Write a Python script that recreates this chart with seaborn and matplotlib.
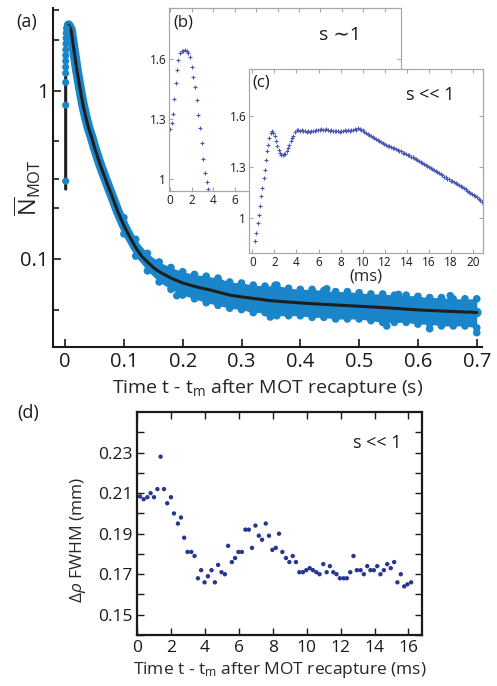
import numpy as np
import pandas as pd
import seaborn as sns
import matplotlib.pyplot as plt
from matplotlib.ticker import LogLocator, NullFormatter

##################### panel (a): N_MOT after recapture (log scale)

# fitted curve (black line), time in s
fit_t = [0.001, 0.001, 0.006, 0.010, 0.015, 0.020, 0.025, 0.030, 0.035, 0.040, 0.045,
         0.050, 0.060, 0.070, 0.080, 0.090, 0.100, 0.110, 0.120, 0.130, 0.140, 0.150,
         0.160, 0.180, 0.200, 0.225, 0.250, 0.280, 0.300, 0.350, 0.400, 0.450, 0.500,
         0.550, 0.600, 0.650, 0.700]
fit_n = [0.26, 2.20, 2.45, 2.30, 1.75, 1.33, 1.05, 0.84, 0.70, 0.60, 0.53,
         0.46, 0.36, 0.29, 0.235, 0.19, 0.158, 0.135, 0.117, 0.104, 0.096, 0.089,
         0.084, 0.077, 0.072, 0.068, 0.065, 0.061, 0.0595, 0.0565, 0.0548, 0.0535, 0.0524,
         0.0512, 0.0498, 0.0489, 0.0481]

# measured points during the rise
rise_t = [0.001, 0.001, 0.001, 0.001, 0.001, 0.001, 0.0012, 0.0012, 0.0015, 0.0018, 0.002, 0.0025]
rise_n = [0.29, 0.82, 1.12, 1.27, 1.38, 1.50, 1.62, 1.75, 1.90, 2.05, 2.20, 2.35]

# upper / lower edge of the noisy data band
band_t = [0.10, 0.12, 0.14, 0.16, 0.18, 0.20, 0.22, 0.24, 0.26, 0.28, 0.30, 0.32, 0.34,
          0.36, 0.38, 0.40, 0.42, 0.44, 0.46, 0.48, 0.50, 0.52, 0.54, 0.56, 0.58, 0.60,
          0.62, 0.64, 0.66, 0.68, 0.70]
band_hi = [0.176, 0.131, 0.108, 0.096, 0.089, 0.084, 0.081, 0.079, 0.077, 0.073, 0.072,
           0.070, 0.069, 0.070, 0.067, 0.066, 0.066, 0.065, 0.064, 0.064, 0.063, 0.062,
           0.062, 0.061, 0.061, 0.060, 0.059, 0.059, 0.058, 0.058, 0.058]
band_lo = [0.141, 0.104, 0.085, 0.073, 0.066, 0.061, 0.058, 0.055, 0.053, 0.051, 0.050,
           0.048, 0.048, 0.046, 0.046, 0.046, 0.045, 0.045, 0.044, 0.044, 0.044, 0.043,
           0.042, 0.042, 0.042, 0.041, 0.041, 0.040, 0.040, 0.040, 0.039]

# stray points outside the band
out_t = [0.19, 0.262, 0.349, 0.357, 0.445, 0.547, 0.567, 0.62, 0.655, 0.70]
out_n = [0.0605, 0.0735, 0.0452, 0.0697, 0.0665, 0.0400, 0.0616, 0.0385, 0.0605, 0.0365]

##################### inset (b): s ~ 1, time in ms

b_t = [0.0, 0.19, 0.31, 0.40, 0.53, 0.62, 0.78, 0.93, 1.09, 1.24, 1.40, 1.55, 1.71,
       1.86, 2.02, 2.17, 2.33, 2.48, 2.64, 2.79, 2.95, 3.10, 3.26, 3.41, 3.57]
b_v = [1.25, 1.28, 1.325, 1.40, 1.48, 1.545, 1.595, 1.628, 1.64, 1.642, 1.645, 1.64, 1.63,
       1.61, 1.56, 1.51, 1.46, 1.395, 1.32, 1.255, 1.18, 1.10, 1.03, 0.985, 0.95]

##################### inset (c): s << 1, time in ms

c_t = [0.21, 0.36, 0.48, 0.60, 0.72, 0.81, 0.90, 1.03, 1.12, 1.21, 1.33, 1.42, 1.54, 1.66,
       1.78, 1.90, 2.02, 2.14, 2.26, 2.38, 2.50, 2.62, 2.75, 2.87, 2.99, 3.11, 3.23, 3.35,
       3.47, 3.59, 3.71, 3.86, 4.01, 4.16, 4.31, 4.46, 4.61, 4.76, 4.91, 5.06, 5.21, 5.36,
       5.51, 5.66, 5.81, 5.96, 6.11, 6.26, 6.41, 6.56, 6.71, 6.86, 7.01, 7.16, 7.31, 7.46,
       7.61, 7.76, 7.91, 8.06, 8.21, 8.36, 8.51, 8.66, 8.81, 8.96, 9.11, 9.26, 9.41, 9.56,
       9.71, 9.86, 10.01, 10.16, 10.31, 10.46, 10.61, 10.76, 10.91, 11.06, 11.21, 11.36,
       11.51, 11.66, 11.81, 11.96, 12.11, 12.26, 12.41, 12.56, 12.71, 12.86, 13.01, 13.16,
       13.31, 13.46, 13.61, 13.76, 13.91, 14.06, 14.21, 14.36, 14.51, 14.66, 14.81, 14.96,
       15.11, 15.26, 15.41, 15.56, 15.71, 15.86, 16.01, 16.16, 16.31, 16.46, 16.61, 16.76,
       16.91, 17.06, 17.21, 17.36, 17.51, 17.66, 17.81, 17.96, 18.11, 18.26, 18.41, 18.56,
       18.71, 18.86, 19.01, 19.16, 19.31, 19.46, 19.61, 19.76, 19.91, 20.06, 20.21, 20.36,
       20.51, 20.66, 20.81]
c_v = [0.863, 0.912, 0.970, 1.020, 1.069, 1.127, 1.176, 1.235, 1.284, 1.343, 1.392, 1.431,
       1.470, 1.500, 1.510, 1.500, 1.480, 1.450, 1.425, 1.400, 1.382, 1.373, 1.371, 1.374,
       1.378, 1.392, 1.410, 1.430, 1.450, 1.470, 1.484, 1.504, 1.516, 1.520, 1.514, 1.517,
       1.513, 1.510, 1.508, 1.512, 1.507, 1.510, 1.509, 1.514, 1.518, 1.520, 1.516, 1.522,
       1.519, 1.517, 1.521, 1.515, 1.513, 1.517, 1.512, 1.514, 1.509, 1.511, 1.507, 1.513,
       1.510, 1.515, 1.512, 1.518, 1.514, 1.520, 1.517, 1.522, 1.520, 1.530, 1.525, 1.518,
       1.516, 1.508, 1.501, 1.496, 1.489, 1.483, 1.478, 1.472, 1.464, 1.459, 1.452, 1.446,
       1.441, 1.433, 1.429, 1.425, 1.422, 1.417, 1.413, 1.409, 1.404, 1.400, 1.395, 1.391,
       1.385, 1.381, 1.375, 1.372, 1.368, 1.361, 1.357, 1.351, 1.347, 1.341, 1.335, 1.330,
       1.324, 1.320, 1.313, 1.307, 1.301, 1.294, 1.288, 1.281, 1.277, 1.269, 1.262, 1.257,
       1.250, 1.243, 1.238, 1.231, 1.227, 1.220, 1.215, 1.209, 1.203, 1.198, 1.191, 1.187,
       1.180, 1.174, 1.169, 1.161, 1.155, 1.149, 1.142, 1.137, 1.128, 1.121, 1.113, 1.105,
       1.096]

##################### panel (d): cloud width, time in ms

d_t = [0.18, 0.39, 0.61, 0.80, 1.00, 1.20, 1.39, 1.59, 1.78, 2.00, 2.18, 2.41, 2.59, 2.78,
       2.98, 3.20, 3.39, 3.59, 3.78, 3.98, 4.18, 4.39, 4.59, 4.78, 4.98, 5.18, 5.37, 5.59,
       5.78, 5.98, 6.18, 6.39, 6.59, 6.78, 6.98, 7.18, 7.37, 7.59, 7.78, 7.98, 8.18, 8.37,
       8.57, 8.78, 8.98, 9.18, 9.37, 9.57, 9.78, 9.98, 10.18, 10.37, 10.57, 10.76, 10.98,
       11.18, 11.37, 11.57, 11.76, 11.96, 12.18, 12.37, 12.57, 12.76, 12.96, 13.18, 13.37,
       13.57, 13.76, 13.96, 14.16, 14.35, 14.55, 14.75, 14.96, 15.16, 15.35, 15.55, 15.75,
       15.94, 16.16]
d_w = [0.2084, 0.207, 0.208, 0.210, 0.208, 0.212, 0.228, 0.212, 0.205, 0.208, 0.200, 0.195,
       0.198, 0.188, 0.181, 0.181, 0.179, 0.168, 0.172, 0.166, 0.169, 0.172, 0.166, 0.1746,
       0.171, 0.170, 0.184, 0.176, 0.178, 0.181, 0.181, 0.192, 0.192, 0.183, 0.194, 0.189,
       0.187, 0.195, 0.189, 0.182, 0.183, 0.190, 0.181, 0.178, 0.176, 0.179, 0.176, 0.171,
       0.171, 0.172, 0.173, 0.172, 0.171, 0.170, 0.175, 0.171, 0.174, 0.171, 0.170, 0.168,
       0.168, 0.168, 0.171, 0.179, 0.172, 0.172, 0.170, 0.174, 0.172, 0.172, 0.174, 0.170,
       0.172, 0.175, 0.173, 0.176, 0.166, 0.170, 0.164, 0.165, 0.166]

#####################

blue = '#1a85c8'
inset_blue = '#4a58b6'
grey = '#a8a8a8'

sns.set_style('ticks')
plt.rcParams['font.family'] = ['Open Sans', 'DejaVu Sans']
plt.rcParams['mathtext.fontset'] = 'custom'
plt.rcParams['mathtext.rm'] = 'Open Sans'
plt.rcParams['mathtext.it'] = 'Open Sans:italic'
plt.rcParams['text.color'] = '#1a1a1a'

fig = plt.figure(figsize=(4.97, 6.86), dpi=100)

# ---- panel (a)
ax = fig.add_axes([0.1073, 0.4942, 0.862, 0.4942])
ax.set_yscale('log')
ax.fill_between(band_t, band_lo, band_hi, color=blue, lw=0)
# thick blue core along the decay (skip the vertical rise segment)
sns.lineplot(x=fit_t[2:], y=fit_n[2:], ax=ax, color=blue, lw=7, sort=False, estimator=None,
             solid_capstyle='round')
for xs, ys in [(band_t, band_hi), (band_t, band_lo), (out_t, out_n)]:
    sns.scatterplot(x=xs, y=ys, ax=ax, s=30, color=blue, edgecolor='none')
sns.scatterplot(x=rise_t, y=rise_n, ax=ax, s=26, color=blue, edgecolor='none', zorder=3)
sns.lineplot(x=fit_t, y=fit_n, ax=ax, color='#1e1e1e', lw=2.2, sort=False, estimator=None)

ax.set_xlim(-0.02, 0.7085)
ax.set_ylim(0.03, 3.1)
ax.set_xticks([0, 0.1, 0.2, 0.3, 0.4, 0.5, 0.6, 0.7])
ax.set_xticklabels(['0', '0.1', '0.2', '0.3', '0.4', '0.5', '0.6', '0.7'])
ax.set_yticks([0.1, 1])
ax.set_yticklabels(['0.1', '1'])
ax.yaxis.set_minor_locator(LogLocator(subs=(2, 3, 5)))
ax.yaxis.set_minor_formatter(NullFormatter())
ax.tick_params(which='both', direction='in', width=1.2, labelsize=14.5, colors='#1a1a1a')
ax.tick_params(which='major', length=6)
ax.tick_params(which='minor', length=4)
sns.despine(ax=ax)
for s in ['left', 'bottom']:
    ax.spines[s].set_linewidth(1.5)
    ax.spines[s].set_color('#1a1a1a')
ax.set_xlabel(r'Time t - t$_{\rm m}$ after MOT recapture (s)', fontsize=14, labelpad=4)
ax.set_ylabel(r'$\overline{\rm N}_{\rm MOT}$', fontsize=17)
ax.yaxis.set_label_coords(-0.024, 0.47)

# ---- inset (b)
axb = fig.add_axes([0.340, 0.7216, 0.467, 0.2668])
axb.set_facecolor('white')
sns.scatterplot(x=b_t, y=b_v, ax=axb, marker='+', s=10, linewidth=0.8, color=inset_blue)
axb.set_xlim(-0.1, 21.5)
axb.set_ylim(0.94, 1.855)
axb.set_xticks(range(0, 21, 2))
axb.set_yticks([1, 1.3, 1.6])
axb.set_yticklabels(['1', '1.3', '1.6'])
axb.text(0.06, 0.92, '(b)', transform=axb.transAxes, fontsize=12, ha='center', va='center')
axb.text(0.737, 0.852, 's \u223c1', transform=axb.transAxes, fontsize=14, ha='center', va='center')

# ---- inset (c)
axc = fig.add_axes([0.501, 0.6312, 0.471, 0.2682])
axc.set_facecolor('white')
sns.scatterplot(x=c_t, y=c_v, ax=axc, marker='+', s=10, linewidth=0.8, color=inset_blue)
axc.set_xlim(-0.3, 20.9)
axc.set_ylim(0.794, 1.876)
axc.set_xticks(range(0, 21, 2))
axc.set_yticks([1, 1.3, 1.6])
axc.set_yticklabels(['1', '1.3', '1.6'])
axc.set_xlabel('(ms)', fontsize=12, labelpad=0)
axc.text(0.05, 0.924, '(c)', transform=axc.transAxes, fontsize=12, ha='center', va='center')
axc.text(0.774, 0.859, 's << 1', transform=axc.transAxes, fontsize=13, ha='center', va='center')

for a in [axb, axc]:
    for s in a.spines.values():
        s.set_visible(True)
        s.set_color(grey)
        s.set_linewidth(0.9)
    a.tick_params(direction='in', length=3, width=0.8, color=grey, labelsize=8.5,
                  labelcolor='#1a1a1a', top=True, right=True, pad=2)

# ---- panel (d)
axd = fig.add_axes([0.2757, 0.0743, 0.5734, 0.325])
sns.scatterplot(x=d_t, y=d_w, ax=axd, s=10, color='#27368e', edgecolor='none')
axd.set_xlim(0, 16.8)
axd.set_ylim(0.14, 0.25)
axd.set_xticks(range(0, 17, 2))
axd.set_yticks([0.15, 0.17, 0.19, 0.21, 0.23])
axd.set_yticklabels(['0.15', '0.17', '0.19', '0.21', '0.23'])
axd.set_yticks([0.14, 0.16, 0.18, 0.20, 0.22, 0.24], minor=True)
for s in axd.spines.values():
    s.set_visible(True)
    s.set_linewidth(1.6)
    s.set_color('#1a1a1a')
axd.tick_params(which='both', direction='in', length=5, width=1, top=True, right=True,
                labelsize=12.5, colors='#1a1a1a')
axd.set_xlabel(r'Time t - t$_{\rm m}$ after MOT recapture (ms)', fontsize=12.5, labelpad=3)
axd.set_ylabel(r'$\Delta\rho$ FWHM (mm)', fontsize=12.5)
axd.yaxis.set_label_coords(-0.172, 0.426)
axd.text(0.842, 0.861, 's << 1', transform=axd.transAxes, fontsize=13, ha='center', va='center')

fig.text(0.054, 0.968, '(a)', fontsize=13, ha='center', va='center')
fig.text(0.056, 0.398, '(d)', fontsize=13, ha='center', va='center')

fig.savefig('out.png', dpi=100)
